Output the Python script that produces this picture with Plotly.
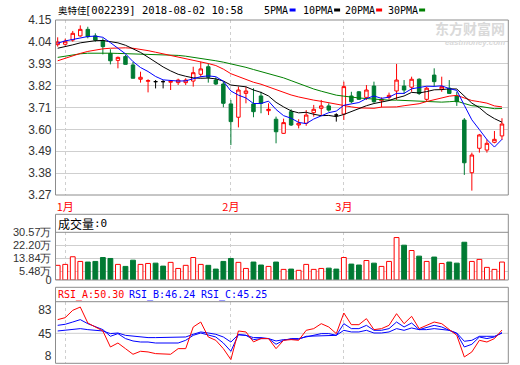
import plotly.graph_objects as go

W, H = 520, 365

# ---------------- data ----------------
opens = [4.026, 4.028, 4.049, 4.070, 4.103, 4.070, 4.046, 3.982, 3.947, 3.966,
         3.924, 3.852, 3.842, 3.840, 3.840, 3.837, 3.835, 3.835, 3.843, 3.877,
         3.915, 3.848, 3.828, 3.728, 3.661, 3.781, 3.728, 3.768, 3.694, 3.651,
         3.580, 3.689, 3.622, 3.631, 3.684, 3.706, 3.718, 3.672, 3.677, 3.768,
         3.789, 3.761, 3.818, 3.744, 3.761, 3.793, 3.818, 3.812, 3.852, 3.751,
         3.873, 3.803, 3.807, 3.768, 3.647, 3.382, 3.505, 3.496, 3.535, 3.567]
closes = [4.039, 4.043, 4.083, 4.103, 4.066, 4.049, 4.016, 3.945, 3.962, 3.927,
          3.857, 3.862, 3.845, 3.840, 3.840, 3.842, 3.848, 3.848, 3.885, 3.904,
          3.862, 3.828, 3.731, 3.639, 3.798, 3.793, 3.689, 3.731, 3.701, 3.588,
          3.634, 3.622, 3.631, 3.672, 3.701, 3.718, 3.697, 3.672, 3.815, 3.739,
          3.751, 3.798, 3.739, 3.751, 3.771, 3.848, 3.798, 3.852, 3.781, 3.807,
          3.840, 3.815, 3.781, 3.739, 3.432, 3.471, 3.572, 3.530, 3.550, 3.627]
highs = [4.063, 4.056, 4.095, 4.123, 4.116, 4.083, 4.058, 4.003, 3.966, 3.974,
         3.940, 3.890, 3.852, 3.848, 3.848, 3.848, 3.855, 3.857, 3.915, 3.940,
         3.932, 3.862, 3.840, 3.748, 3.815, 3.815, 3.807, 3.789, 3.731, 3.664,
         3.654, 3.701, 3.651, 3.697, 3.723, 3.748, 3.731, 3.681, 3.840, 3.789,
         3.793, 3.823, 3.840, 3.761, 3.785, 3.929, 3.848, 3.865, 3.857, 3.815,
         3.907, 3.865, 3.848, 3.789, 3.657, 3.483, 3.577, 3.550, 3.592, 3.656]
lows = [4.016, 4.021, 4.041, 4.066, 4.058, 4.041, 3.977, 3.927, 3.907, 3.927,
        3.857, 3.835, 3.786, 3.806, 3.806, 3.798, 3.823, 3.823, 3.815, 3.862,
        3.835, 3.823, 3.711, 3.521, 3.610, 3.731, 3.661, 3.681, 3.672, 3.530,
        3.578, 3.617, 3.605, 3.618, 3.664, 3.672, 3.689, 3.639, 3.647, 3.731,
        3.748, 3.748, 3.734, 3.711, 3.750, 3.748, 3.778, 3.789, 3.773, 3.739,
        3.815, 3.789, 3.778, 3.718, 3.371, 3.292, 3.483, 3.483, 3.530, 3.547]

ma5 = [4.033, 4.045, 4.052, 4.060, 4.067, 4.069, 4.063, 4.036, 4.008, 3.980,
       3.941, 3.911, 3.891, 3.866, 3.849, 3.846, 3.843, 3.844, 3.853, 3.865,
       3.869, 3.865, 3.842, 3.793, 3.772, 3.758, 3.730, 3.730, 3.742, 3.700,
       3.669, 3.656, 3.635, 3.629, 3.652, 3.669, 3.684, 3.692, 3.721, 3.728,
       3.735, 3.755, 3.768, 3.756, 3.762, 3.781, 3.781, 3.804, 3.810, 3.817,
       3.816, 3.819, 3.805, 3.796, 3.721, 3.648, 3.599, 3.549, 3.511, 3.550]
ma10 = [4.008, 4.015, 4.025, 4.035, 4.042, 4.046, 4.047, 4.042, 4.035, 4.023,
        4.005, 3.987, 3.963, 3.937, 3.914, 3.894, 3.877, 3.867, 3.859, 3.857,
        3.858, 3.854, 3.843, 3.823, 3.819, 3.814, 3.798, 3.786, 3.768, 3.736,
        3.713, 3.693, 3.683, 3.686, 3.676, 3.669, 3.670, 3.664, 3.675, 3.690,
        3.702, 3.719, 3.730, 3.738, 3.745, 3.758, 3.768, 3.786, 3.783, 3.790,
        3.799, 3.800, 3.804, 3.803, 3.769, 3.732, 3.709, 3.677, 3.654, 3.636]
ma20 = [3.945, 3.958, 3.970, 3.982, 3.992, 4.000, 4.005, 4.008, 4.010, 4.010,
        4.008, 4.003, 3.996, 3.988, 3.980, 3.972, 3.965, 3.958, 3.950, 3.942,
        3.931, 3.921, 3.903, 3.880, 3.866, 3.854, 3.837, 3.827, 3.814, 3.797,
        3.785, 3.773, 3.763, 3.754, 3.747, 3.741, 3.734, 3.725, 3.721, 3.713,
        3.708, 3.706, 3.706, 3.712, 3.711, 3.713, 3.719, 3.725, 3.729, 3.740,
        3.750, 3.760, 3.767, 3.771, 3.757, 3.745, 3.739, 3.732, 3.718, 3.713]
ma30 = [3.962, 3.968, 3.975, 3.980, 3.983, 3.984, 3.984, 3.983, 3.982, 3.981,
        3.980, 3.979, 3.978, 3.977, 3.976, 3.975, 3.972, 3.968, 3.963, 3.957,
        3.951, 3.945, 3.938, 3.930, 3.922, 3.912, 3.901, 3.890, 3.880, 3.872,
        3.859, 3.845, 3.830, 3.815, 3.803, 3.792, 3.781, 3.772, 3.767, 3.761,
        3.758, 3.755, 3.752, 3.749, 3.747, 3.747, 3.745, 3.745, 3.742, 3.739,
        3.738, 3.737, 3.739, 3.742, 3.730, 3.719, 3.716, 3.709, 3.704, 3.705]

volume = [9.4, 10.0, 14.9, 11.9, 11.5, 11.9, 14.4, 13.8, 10.0, 8.7,
          12.7, 10.0, 10.6, 10.8, 8.9, 11.3, 7.4, 9.4, 14.4, 10.0,
          9.4, 7.0, 11.9, 13.8, 11.3, 7.4, 11.5, 9.6, 8.7, 11.5,
          6.8, 7.0, 6.2, 10.0, 6.8, 7.4, 7.6, 7.0, 14.4, 10.2,
          9.6, 12.5, 10.8, 8.7, 11.9, 27.2, 22.3, 18.9, 15.3, 11.9,
          14.7, 10.6, 11.5, 10.8, 24.2, 11.9, 13.2, 8.1, 6.8, 11.5]

rsi_a = [67.3, 70.5, 82.5, 87.8, 61.8, 55.3, 48.8, 22.7, 29.2, 20.0,
         10.8, 15.7, 14.6, 11.9, 10.8, 10.8, 20.0, 20.0, 55.3, 63.4,
         39.0, 33.6, 20.0, 2.1, 48.8, 47.2, 31.0, 36.4, 36.4, 20.0,
         33.6, 34.7, 33.6, 49.9, 52.6, 60.7, 55.3, 44.5, 78.1, 59.1,
         59.1, 68.9, 51.0, 52.6, 58.0, 77.0, 60.7, 72.7, 52.6, 58.0,
         63.4, 60.7, 51.0, 41.7, 6.4, 14.6, 33.6, 30.8, 36.4, 50.30]
rsi_b = [58.0, 59.7, 63.4, 67.3, 60.7, 55.3, 51.0, 40.1, 44.5, 36.4,
         32.5, 30.8, 30.8, 29.2, 29.2, 29.2, 29.2, 33.6, 41.7, 45.5,
         42.8, 39.0, 29.2, 15.7, 42.8, 41.7, 34.7, 36.4, 36.4, 27.1,
         33.6, 36.4, 36.4, 39.0, 41.7, 44.5, 44.5, 41.7, 60.7, 52.6,
         52.6, 58.0, 49.9, 49.9, 52.6, 63.4, 55.3, 61.8, 51.0, 54.2,
         58.0, 55.3, 49.9, 44.5, 22.7, 27.1, 39.0, 36.4, 39.0, 46.24]
rsi_c = [48.8, 49.9, 51.0, 52.6, 51.0, 49.9, 48.8, 44.5, 45.5, 41.7,
         40.1, 39.0, 38.0, 38.0, 38.0, 38.0, 38.0, 39.0, 43.4, 47.2,
         45.5, 43.4, 39.0, 30.8, 42.8, 41.7, 38.0, 38.0, 36.4, 32.5,
         34.7, 34.7, 35.3, 40.1, 40.6, 41.7, 41.7, 41.7, 49.9, 47.2,
         47.2, 49.9, 45.5, 45.5, 47.2, 52.6, 49.9, 53.7, 51.0, 51.0,
         52.6, 51.5, 49.9, 45.5, 32.0, 33.6, 40.1, 40.1, 40.1, 45.25]

month_pos = [1, 23, 38]
month_labels = ["1月", "2月", "3月"]
price_ticks = [3.27, 3.38, 3.49, 3.60, 3.71, 3.82, 3.93, 4.04, 4.15]
vol_ticks = [0, 5.48, 13.84, 22.20, 30.57]
rsi_ticks = [8, 45, 83]

stock_name = "奥特佳"
stock_info = "[002239] 2018-08-02 10:58"
ma_names = ["5PMA", "10PMA", "20PMA", "30PMA"]

# ---------------- style ----------------
RED = "#ff0000"
GREEN = "#007a33"
BLUE = "#0000ff"
BLACK = "#000000"
MAGREEN = "#008000"
GRID = "#cfcfcf"
FRAME = "#8c8c8c"
MONO = "DejaVu Sans Mono"
CJK = "Noto Sans CJK SC"
SANS = "Liberation Sans"

n = len(closes)
xs = list(range(n))


def fx(px):
    return px / W


def fy(py):
    return 1 - py / H


XL, XR = 55.5, 508.3
X_RANGE = [-0.29, 59.84]

fig = go.Figure()

up = [i for i in xs if closes[i] > opens[i]]
down = [i for i in xs if closes[i] < opens[i]]
doji = [i for i in xs if closes[i] == opens[i]]


def candle(idx, color, fill):
    return go.Candlestick(
        x=idx,
        open=[opens[i] for i in idx], high=[highs[i] for i in idx],
        low=[lows[i] for i in idx], close=[closes[i] for i in idx],
        increasing=dict(line=dict(color=color, width=1), fillcolor=fill),
        decreasing=dict(line=dict(color=color, width=1), fillcolor=fill),
        whiskerwidth=0, xaxis="x", yaxis="y", showlegend=False, hoverinfo="x+y")


fig.add_trace(candle(up, RED, "#ffffff"))
fig.add_trace(candle(down, GREEN, GREEN))
if doji:
    fig.add_trace(candle(doji, BLACK, BLACK))

for ma, col in [(ma30, MAGREEN), (ma20, RED), (ma10, BLACK), (ma5, BLUE)]:
    fig.add_trace(go.Scatter(x=xs, y=ma, mode="lines", line=dict(color=col, width=1),
                             xaxis="x", yaxis="y", showlegend=False, hoverinfo="skip"))

vol_is_up = [closes[i] > opens[i] or (closes[i] == opens[i] and i > 0 and closes[i] > closes[i - 1])
             for i in xs]
fig.add_trace(go.Bar(
    x=xs, y=volume, width=0.64,
    marker=dict(color=["#ffffff" if u else GREEN for u in vol_is_up],
                line=dict(color=[RED if u else GREEN for u in vol_is_up], width=1)),
    xaxis="x2", yaxis="y2", showlegend=False, hoverinfo="skip"))

for series, col in [(rsi_c, BLUE), (rsi_b, BLUE), (rsi_a, RED)]:
    fig.add_trace(go.Scatter(x=xs, y=series, mode="lines", line=dict(color=col, width=1),
                             xaxis="x3", yaxis="y3", showlegend=False, hoverinfo="skip"))

xcommon = dict(range=X_RANGE, zeroline=False, showline=False, fixedrange=True,
               tickvals=month_pos, showgrid=True, gridcolor=GRID, griddash="3px,3px",
               gridwidth=1, ticks="")

MAIN = (20, 195)
VOLB = (214.3, 232.3, 280)
RSIB = (287.3, 301.7, 363.3)
RSI_RANGE = [83 - (RSIB[2] - 310) / 0.6133, 83 + (310 - RSIB[1]) / 0.6133]

ycommon = dict(zeroline=False, showline=False, ticks="", fixedrange=True, automargin=False,
               ticklabelstandoff=3, tickfont=dict(family=SANS, size=12, color="#333333"))

fig.update_layout(
    width=W, height=H, margin=dict(l=0, r=0, t=0, b=0, autoexpand=False),
    paper_bgcolor="#ffffff", plot_bgcolor="#ffffff",
    boxgap=0.34, showlegend=False,
    xaxis=dict(**xcommon, domain=[fx(XL), fx(XR)], anchor="y", ticktext=month_labels,
               ticklabelstandoff=4,
               tickfont=dict(family=CJK, size=11, color=RED), rangeslider=dict(visible=False)),
    xaxis2=dict(**xcommon, domain=[fx(XL), fx(XR)], anchor="y2", showticklabels=False),
    xaxis3=dict(**xcommon, domain=[fx(XL), fx(XR)], anchor="y3", showticklabels=False),
    yaxis=dict(**ycommon, domain=[fy(MAIN[1]), fy(MAIN[0])], range=[price_ticks[0], price_ticks[-1]],
               tickvals=price_ticks, ticktext=[f"{v:.2f}" for v in price_ticks],
               showgrid=True, gridcolor=GRID, anchor="x"),
    yaxis2=dict(**ycommon, domain=[fy(VOLB[2]), fy(VOLB[1])], range=[0, vol_ticks[-1]],
                tickvals=vol_ticks, ticktext=["0"] + [f"{v:.2f}万" for v in vol_ticks[1:]],
                showgrid=True, gridcolor=GRID, anchor="x2"),
    yaxis3=dict(**ycommon, domain=[fy(RSIB[2]), fy(RSIB[1])], range=RSI_RANGE,
                tickvals=rsi_ticks, ticktext=[str(v) for v in rsi_ticks],
                showgrid=False, anchor="x3"),
)
fig.update_yaxes(tickfont_size=11, selector=dict(anchor="x2"))

shapes = []
for top, bot in [(MAIN[0], MAIN[1]), (VOLB[0], VOLB[2]), (RSIB[0], RSIB[2])]:
    shapes.append(dict(type="rect", xref="paper", yref="paper", x0=fx(XL), x1=fx(XR),
                       y0=fy(bot), y1=fy(top), line=dict(color=FRAME, width=1), layer="above"))
for yy in [VOLB[1], RSIB[1]]:
    shapes.append(dict(type="line", xref="paper", yref="paper", x0=fx(XL), x1=fx(XR),
                       y0=fy(yy), y1=fy(yy), line=dict(color=FRAME, width=1), layer="above"))
shapes.append(dict(type="line", xref="paper", yref="y3", x0=fx(XL), x1=fx(XR), y0=45, y1=45,
                   line=dict(color=GRID, width=1), layer="below"))

ann = []


def text(x, y, s, color="#000000", family=MONO, size=10, anchor="left", **kw):
    ann.append(dict(x=fx(x), y=fy(y), xref="paper", yref="paper", text=s, showarrow=False,
                    xanchor=anchor, yanchor="middle", font=dict(family=family, size=size, color=color),
                    borderpad=0, **kw))


text(56.5, 10, stock_name, family=CJK, size=9.5)
text(84, 10, stock_info, size=10.5)
ma_cols = [BLUE, BLACK, RED, MAGREEN]
leg_x = [263, 301.5, 343.5, 386.5]
for name, col, lx in zip(ma_names, ma_cols, leg_x):
    text(lx, 10, name, size=10)
    dx = lx + len(name) * 6.02 + 2.5
    shapes.append(dict(type="rect", xref="paper", yref="paper", x0=fx(dx), x1=fx(dx + 6),
                       y0=fy(11.5), y1=fy(8.5), line=dict(width=0), fillcolor=col))

# watermark
text(506, 28, "<b>东方财富网</b>", color="#d9d9d9", family=CJK, size=14, anchor="right")
text(506, 42.5, "<i><b>eastmoney.com</b></i>", color="#d9d9d9", family=SANS, size=8, anchor="right")

text(57, 223, "成交量", family=CJK, size=12)
text(93, 223, ":0", size=11)

text(56.5, 294.5, f"RSI_A:{rsi_a[-1]:.2f}", color=RED)
text(128, 294.5, f"RSI_B:{rsi_b[-1]:.2f}", color=BLUE)
text(200, 294.5, f"RSI_C:{rsi_c[-1]:.2f}", color=BLUE)

fig.update_layout(shapes=shapes, annotations=ann)
fig.write_html("out.html", config={"displayModeBar": False, "staticPlot": False},
               post_script="document.body.style.margin='0px';document.body.style.padding='0px';")
